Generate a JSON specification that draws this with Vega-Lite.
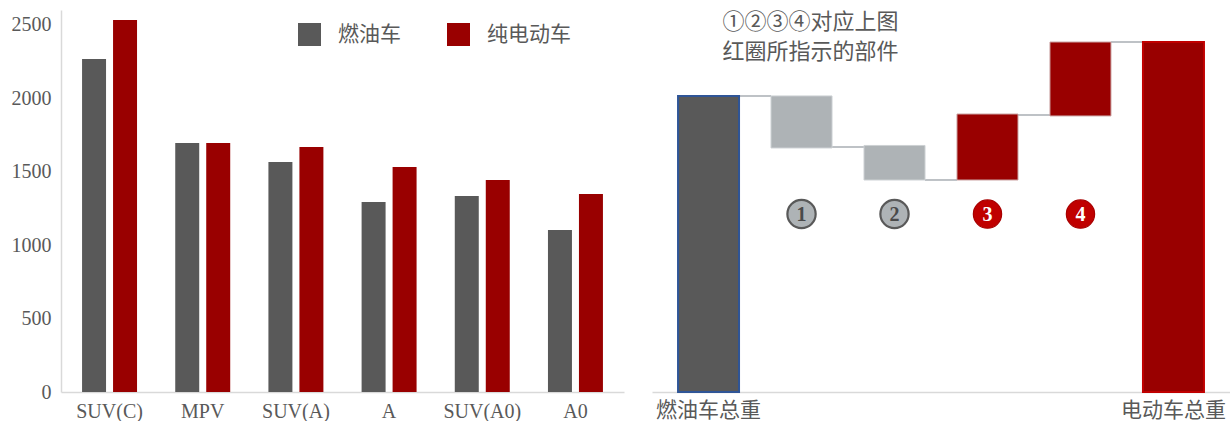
{
  "$schema": "https://vega.github.io/schema/vega-lite/v6.json",
  "background": "white",
  "padding": {"left": 11, "top": 10, "right": 0, "bottom": 0},
  "spacing": 28,
  "config": {"view": {"stroke": null}, "font": "Liberation Serif"},
  "resolve": {"scale": {"x": "independent", "y": "independent", "color": "independent"}},
  "hconcat": [
    {
      "width": 563,
      "height": 382,
      "data": {"values": [
        {"cat": "SUV(C)", "type": "燃油车", "v": 2267},
        {"cat": "SUV(C)", "type": "纯电动车", "v": 2532},
        {"cat": "MPV", "type": "燃油车", "v": 1695},
        {"cat": "MPV", "type": "纯电动车", "v": 1695},
        {"cat": "SUV(A)", "type": "燃油车", "v": 1565},
        {"cat": "SUV(A)", "type": "纯电动车", "v": 1668},
        {"cat": "A", "type": "燃油车", "v": 1293},
        {"cat": "A", "type": "纯电动车", "v": 1531},
        {"cat": "SUV(A0)", "type": "燃油车", "v": 1334},
        {"cat": "SUV(A0)", "type": "纯电动车", "v": 1443},
        {"cat": "A0", "type": "燃油车", "v": 1103},
        {"cat": "A0", "type": "纯电动车", "v": 1348}
      ]},
      "mark": {"type": "bar"},
      "encoding": {
        "x": {
          "field": "cat", "type": "nominal",
          "sort": ["SUV(C)", "MPV", "SUV(A)", "A", "SUV(A0)", "A0"],
          "scale": {"paddingInner": 0.41, "paddingOuter": 0.226},
          "axis": {"title": null, "labelAngle": 0, "labelFont": "Liberation Serif", "labelFontSize": 20, "labelColor": "#595959", "ticks": false, "domainColor": "#d9d9d9", "domainWidth": 1.5, "labelPadding": 9}
        },
        "xOffset": {"field": "type", "type": "nominal", "sort": ["燃油车", "纯电动车"], "scale": {"paddingInner": 0.226}},
        "y": {
          "field": "v", "type": "quantitative",
          "scale": {"domain": [0, 2600]},
          "axis": {"title": null, "grid": false, "ticks": false, "format": "d", "values": [0, 500, 1000, 1500, 2000, 2500], "domainColor": "#d9d9d9", "domainWidth": 1.5, "labelFont": "Liberation Serif", "labelFontSize": 20, "labelColor": "#595959", "labelPadding": 10}
        },
        "color": {
          "field": "type", "type": "nominal",
          "scale": {"domain": ["燃油车", "纯电动车"], "range": ["#595959", "#990000"]},
          "legend": {"title": null, "orient": "none", "legendX": 237, "legendY": 13, "direction": "horizontal", "symbolType": "square", "symbolSize": 529, "symbolStrokeWidth": 0, "labelFont": "Noto Sans CJK SC", "labelFontSize": 21, "labelColor": "#595959", "labelOffset": 17, "columnPadding": 46, "padding": 0}
        }
      }
    },
    {
      "width": 578,
      "height": 382,
      "layer": [
        {
          "data": {"values": [
            {"step": "燃油车总重", "to": "①", "y": 2015},
            {"step": "①", "to": "②", "y": 1668},
            {"step": "②", "to": "③", "y": 1443},
            {"step": "③", "to": "④", "y": 1885},
            {"step": "④", "to": "电动车总重", "y": 2382}
          ]},
          "mark": {"type": "rule", "color": "#a8aeb3", "strokeWidth": 1.5},
          "encoding": {
            "x": {"field": "step", "type": "nominal", "bandPosition": 1,
              "scale": {"domain": ["燃油车总重", "①", "②", "③", "④", "电动车总重"], "paddingInner": 0.344, "paddingOuter": 0.28},
              "axis": {"title": null, "labelAngle": 0, "ticks": false, "domainColor": "#d9d9d9", "domainWidth": 1.5, "labelFont": "Noto Sans CJK SC", "labelFontSize": 21, "labelColor": "#595959", "labelPadding": 7, "labelExpr": "indexof(['燃油车总重','电动车总重'], datum.value) >= 0 ? datum.value : ''"}},
            "x2": {"field": "to", "bandPosition": 0},
            "y": {"field": "y", "type": "quantitative", "scale": {"domain": [0, 2600]}, "axis": null}
          }
        },
        {
          "data": {"values": [
            {"step": "燃油车总重", "lo": 0, "hi": 2015, "kind": "fuel"},
            {"step": "①", "lo": 1661, "hi": 2015, "kind": "down"},
            {"step": "②", "lo": 1443, "hi": 1678, "kind": "down"},
            {"step": "③", "lo": 1443, "hi": 1892, "kind": "up"},
            {"step": "④", "lo": 1879, "hi": 2382, "kind": "up"},
            {"step": "电动车总重", "lo": 0, "hi": 2382, "kind": "ev"}
          ]},
          "mark": {"type": "bar"},
          "encoding": {
            "x": {"field": "step", "type": "nominal",
              "scale": {"domain": ["燃油车总重", "①", "②", "③", "④", "电动车总重"], "paddingInner": 0.344, "paddingOuter": 0.28},
              "axis": {"title": null, "labelAngle": 0, "ticks": false, "domainColor": "#d9d9d9", "domainWidth": 1.5, "labelFont": "Noto Sans CJK SC", "labelFontSize": 21, "labelColor": "#595959", "labelPadding": 7, "labelExpr": "indexof(['燃油车总重','电动车总重'], datum.value) >= 0 ? datum.value : ''"}},
            "y": {"field": "lo", "type": "quantitative", "scale": {"domain": [0, 2600]}, "axis": null},
            "y2": {"field": "hi"},
            "fill": {"condition": [
              {"test": "datum.kind === 'fuel'", "value": "#595959"},
              {"test": "datum.kind === 'down'", "value": "#aeb3b6"}
            ], "value": "#990000"},
            "stroke": {"condition": [
              {"test": "datum.kind === 'fuel'", "value": "#2f5597"},
              {"test": "datum.kind === 'down'", "value": "#ccd0d3"},
              {"test": "datum.kind === 'ev'", "value": "#c00000"}
            ], "value": "#c9a0a0"},
            "strokeWidth": {"condition": {"test": "datum.kind === 'fuel' || datum.kind === 'ev'", "value": 2}, "value": 1}
          }
        },
        {
          "data": {"values": [
            {"step": "①", "label": "1", "kind": "g", "y": 1211},
            {"step": "②", "label": "2", "kind": "g", "y": 1211},
            {"step": "③", "label": "3", "kind": "r", "y": 1211},
            {"step": "④", "label": "4", "kind": "r", "y": 1211}
          ]},
          "layer": [
            {
              "mark": {"type": "point", "shape": "circle", "filled": true, "size": 800, "opacity": 1},
              "encoding": {
                "x": {"field": "step", "type": "nominal",
                  "scale": {"domain": ["燃油车总重", "①", "②", "③", "④", "电动车总重"], "paddingInner": 0.344, "paddingOuter": 0.28},
                  "axis": {"title": null, "labelAngle": 0, "ticks": false, "domainColor": "#d9d9d9", "domainWidth": 1.5, "labelFont": "Noto Sans CJK SC", "labelFontSize": 21, "labelColor": "#595959", "labelPadding": 7, "labelExpr": "indexof(['燃油车总重','电动车总重'], datum.value) >= 0 ? datum.value : ''"}},
                "y": {"field": "y", "type": "quantitative", "scale": {"domain": [0, 2600]}, "axis": null},
                "fill": {"condition": {"test": "datum.kind === 'g'", "value": "#aeb3b6"}, "value": "#c00000"},
                "stroke": {"condition": {"test": "datum.kind === 'g'", "value": "#595959"}, "value": "#a80000"},
                "strokeWidth": {"condition": {"test": "datum.kind === 'g'", "value": 2.2}, "value": 1.2}
              }
            },
            {
              "mark": {"type": "text", "font": "Liberation Serif", "fontWeight": "bold", "fontSize": 20, "baseline": "middle", "align": "center", "dy": 1},
              "encoding": {
                "x": {"field": "step", "type": "nominal",
                  "scale": {"domain": ["燃油车总重", "①", "②", "③", "④", "电动车总重"], "paddingInner": 0.344, "paddingOuter": 0.28},
                  "axis": {"title": null, "labelAngle": 0, "ticks": false, "domainColor": "#d9d9d9", "domainWidth": 1.5, "labelFont": "Noto Sans CJK SC", "labelFontSize": 21, "labelColor": "#595959", "labelPadding": 7, "labelExpr": "indexof(['燃油车总重','电动车总重'], datum.value) >= 0 ? datum.value : ''"}},
                "y": {"field": "y", "type": "quantitative", "scale": {"domain": [0, 2600]}, "axis": null},
                "text": {"field": "label"},
                "fill": {"condition": {"test": "datum.kind === 'g'", "value": "#4a4a4a"}, "value": "#ffffff"}
              }
            }
          ]
        },
        {
          "data": {"values": [
            {"step": "燃油车总重", "y": 2518, "t": "①②③④对应上图"},
            {"step": "燃油车总重", "y": 2314, "t": "红圈所指示的部件"}
          ]},
          "mark": {"type": "text", "font": "Noto Sans CJK SC", "fontSize": 22, "align": "left", "baseline": "middle", "dx": 14, "color": "#595959"},
          "encoding": {
            "x": {"field": "step", "type": "nominal",
              "scale": {"domain": ["燃油车总重", "①", "②", "③", "④", "电动车总重"], "paddingInner": 0.344, "paddingOuter": 0.28},
              "axis": {"title": null, "labelAngle": 0, "ticks": false, "domainColor": "#d9d9d9", "domainWidth": 1.5, "labelFont": "Noto Sans CJK SC", "labelFontSize": 21, "labelColor": "#595959", "labelPadding": 7, "labelExpr": "indexof(['燃油车总重','电动车总重'], datum.value) >= 0 ? datum.value : ''"}},
            "y": {"field": "y", "type": "quantitative", "scale": {"domain": [0, 2600]}, "axis": null},
            "text": {"field": "t"}
          }
        }
      ]
    }
  ]
}
